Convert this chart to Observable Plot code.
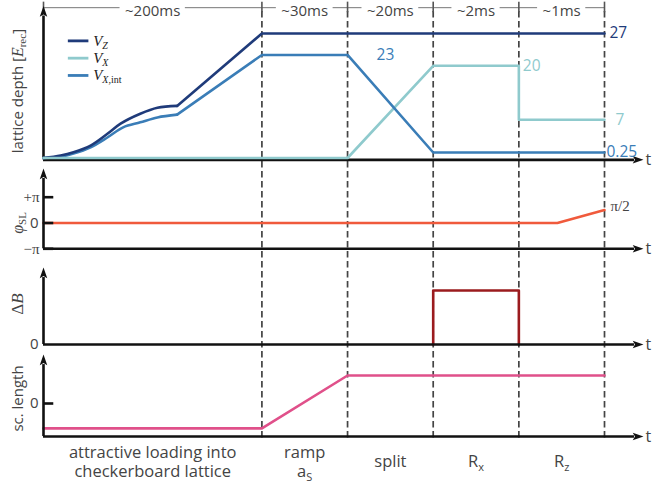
<!DOCTYPE html>
<html><head><meta charset="utf-8">
<script src="https://cdn.jsdelivr.net/npm/d3@7"></script>
<script src="https://cdn.jsdelivr.net/npm/@observablehq/plot@0.6"></script>
<style>
body{margin:0;background:#fff;}
#chart{position:relative;width:652px;height:484px;}
#chart svg{position:absolute;left:0;}
</style></head><body><div id="chart"></div>
<script>
// ---- time axis (schematic, not to scale) ----
const boundaries = [0, 2.55, 3.55, 4.55, 5.55, 6.55];
const durations = ["~200ms", "~30ms", "~20ms", "~2ms", "~1ms"];
const phaseLabels = ["attractive loading into\ncheckerboard lattice", "ramp\na_S", "split", "R_x", "R_z"];

// ---- lattice depths ----
const seriesNames = ["V_Z", "V_X", "V_X,int"];
const seriesColors = ["#1f3b7a", "#8fcacd", "#3a7db7"];
const vzT = [0, 0.20, 0.35, 0.55, 0.75, 0.90, 1.13, 1.33, 1.56, 2.55, 6.55];
const vzV = [0, 0.54, 1.25, 2.7, 5.3, 7.45, 9.6, 10.9, 11.3, 27, 27];
const vxT = [0, 3.55, 4.55, 5.55, 5.55, 6.55];
const vxV = [0, 0, 20, 20, 8.3, 8.3];
const vxiT = [0, 0.20, 0.35, 0.55, 0.75, 0.93, 1.13, 1.33, 1.56, 2.55, 3.55, 4.55, 6.55];
const vxiV = [0, 0.3, 0.97, 2.33, 4.5, 6.65, 7.73, 8.8, 9.4, 22.35, 22.35, 1.19, 1.19];
const rampStart = 1.56;
const depthLabels = ["27", "23", "20", "7", "0.25"];
const depthLabelSeries = ["V_Z", "V_X,int", "V_X", "V_X", "V_X,int"];
const depthLabelT = [6.55, 3.55, 5.55, 6.55, 6.55];
const depthLabelV = [27, 22.35, 20, 8.3, 1.19];

// ---- superlattice phase ----
const phiT = [0, 6.0, 6.55];
const phiV = [0, 0, Math.PI / 2];
const phiTicks = [-Math.PI, 0, Math.PI];
const phiTickLabels = ["−π", "0", "+π"];

// ---- magnetic field gradient ----
const dbT = [4.55, 4.55, 5.55, 5.55];
const dbV = [0, 1, 1, 0];

// ---- scattering length ----
const scT = [0, 2.55, 3.55, 6.55];
const scV = [-0.89, -0.89, 1, 1];

// ================= build ==================
const SERIF = "Liberation Serif";
const SANS = "'Open Sans', Lato, sans-serif";
const TXT = "#444";
const AX = "#111";
const colorOf = Object.fromEntries(seriesNames.map((s, i) => [s, seriesColors[i]]));
const rows = (name, T, V) => T.map((t, i) => ({series: name, t, v: V[i]}));
const depthRows = [...rows("V_X", vxT, vxV), ...rows("V_X,int", vxiT, vxiV), ...rows("V_Z", vzT, vzV)];
const mids = durations.map((d, i) => (boundaries[i] + boundaries[i + 1]) / 2);
const X = {domain: [0, 6.55], range: [43, 604], axis: null};
const pxPerUnit = (X.range[1] - X.range[0]) / (X.domain[1] - X.domain[0]);

// gaps in the top duration bar around each label (measured text width)
const TOPFONT = 15;
const mctx = document.createElement("canvas").getContext("2d");
mctx.font = `${TOPFONT}px 'Open Sans'`;
const barSegs = [];
durations.forEach((d, i) => {
  const g = (mctx.measureText(d).width / 2 + 5) / pxPerUnit;
  barSegs.push({a: boundaries[i], b: mids[i] - g}, {a: mids[i] + g, b: boundaries[i + 1]});
});

// filled arrowhead symbol (points up)
const arrowHead = {
  draw(ctx, size) {
    const r = Math.sqrt(size / Math.PI);
    ctx.moveTo(0, -1.4 * r);
    ctx.lineTo(0.75 * r, 0.75 * r);
    ctx.lineTo(0, 0.3 * r);
    ctx.lineTo(-0.75 * r, 0.75 * r);
    ctx.closePath();
  }
};

const common = {width: 652, x: X, marginLeft: 0, marginRight: 0, marginTop: 0, marginBottom: 0,
  style: `background:none;overflow:visible;font-family:${SANS};`};

function axes(base, tip) {
  return [
    Plot.ruleY([base], {x1: 0, x2: 6.9, stroke: AX, strokeWidth: 2.6}),
    Plot.ruleX([0], {y1: base, y2: tip, stroke: AX, strokeWidth: 2.6}),
    Plot.dot([0], {x: 6.9, y: base, symbol: arrowHead, r: 5, rotate: 90, fill: AX, stroke: "none", dx: 2}),
    Plot.dot([0], {x: 0, y: tip, symbol: arrowHead, r: 5, fill: AX, stroke: "none", dy: -3}),
    Plot.text(["t"], {x: 7.03, y: base, text: d => d, textAnchor: "start", fontSize: 16, fill: TXT})
  ];
}

const tops = [0, 168, 260, 352];
const plots = [];

// dashed phase boundaries spanning all panels
plots.push([0, Plot.plot({...common, height: 484, marginTop: 11, marginBottom: 44,
  marks: [Plot.ruleX(boundaries.slice(1), {stroke: "#444", strokeWidth: 1.7, strokeDasharray: "6.5,3.5"})]})]);

// panel 1: lattice depth
plots.push([tops[0], Plot.plot({...common, height: 168,
  y: {domain: [0, 27], range: [157.5, 33], axis: null},
  marks: [
    Plot.ruleY(barSegs, {x1: "a", x2: "b", y: 32.6, stroke: "#777", strokeWidth: 1}),
    Plot.ruleX(boundaries, {y1: 31.5, y2: 33.8, stroke: "#555", strokeWidth: 1.6}),
    Plot.text(durations, {x: (d, i) => mids[i], y: 32.6, text: d => d, fontSize: TOPFONT, fill: TXT, dy: 3.5}),
    ...axes(-0.4, 30.8),
    Plot.line(depthRows.filter(d => d.t <= rampStart), {x: "t", y: "v", z: "series",
      stroke: d => colorOf[d.series], strokeWidth: 2.6, curve: "catmull-rom"}),
    Plot.line(depthRows.filter(d => d.t >= rampStart || d.series === "V_X"), {x: "t", y: "v", z: "series",
      stroke: d => colorOf[d.series], strokeWidth: 2.6}),
    Plot.ruleY(seriesNames, {x1: 0.29, x2: 0.53, y: (d, i) => 25.4 - i * 3.75, stroke: (d, i) => seriesColors[i], strokeWidth: 2.8}),
    Plot.text(seriesNames, {x: 0.58, y: (d, i) => 25.4 - i * 3.75, text: d => d, textAnchor: "start",
      fontFamily: SERIF, fontStyle: "italic", fontSize: 15, fill: "#222"}),
    ...depthLabels.map((s, i) => Plot.text([s], {x: depthLabelT[i], y: depthLabelV[i], text: d => d,
      textAnchor: "start", dx: [5, 29, 4, 11, 2][i], fontSize: 15.5,
      fill: colorOf[depthLabelSeries[i]]})),
    Plot.text(["lattice depth [E_rec]"], {x: -0.3, y: 14.5, text: d => d, rotate: -90, fontSize: 15, fill: TXT})
  ]})]);

// panel 2: phase
plots.push([tops[1], Plot.plot({...common, height: 92,
  y: {domain: [-Math.PI, Math.PI], range: [80.3, 28.7], axis: null},
  marks: [
    Plot.line(phiT.map((t, i) => ({t, v: phiV[i]})), {x: "t", y: "v", stroke: "#f05a3c", strokeWidth: 2.6}),
    ...axes(-Math.PI, 5.42),
    Plot.ruleY(phiTicks, {x1: 0, x2: 0.12, stroke: AX, strokeWidth: 2.6}),
    Plot.text(phiTicks.filter((d, i) => phiTickLabels[i] !== "0"), {x: 0, y: d => d,
      text: d => phiTickLabels[phiTicks.indexOf(d)], textAnchor: "end", dx: -4, fontFamily: SERIF, fontSize: 15, fill: TXT}),
    Plot.text(phiTicks.filter((d, i) => phiTickLabels[i] === "0"), {x: 0, y: d => d,
      text: d => phiTickLabels[phiTicks.indexOf(d)], textAnchor: "end", dx: -5, fontSize: 15, fill: TXT}),
    Plot.text(["π/2"], {x: phiT[phiT.length - 1], y: phiV[phiV.length - 1], text: d => d, textAnchor: "start",
      dx: 6, dy: -4, fontFamily: SERIF, fontSize: 15, fill: TXT}),
    Plot.text(["φ_SL"], {x: -0.3, y: 0, text: d => d, rotate: -90, fontFamily: SERIF, fontSize: 16, fill: TXT})
  ]})]);

// panel 3: delta B
plots.push([tops[2], Plot.plot({...common, height: 92,
  y: {domain: [0, 1], range: [84, 30], axis: null},
  marks: [
    Plot.line(dbT.map((t, i) => ({t, v: dbV[i]})), {x: "t", y: "v", stroke: "#9b1b1e", strokeWidth: 2.6}),
    ...axes(0, 1.24),
    Plot.text([0], {x: 0, y: 0, text: d => String(d), textAnchor: "end", dx: -5, fontSize: 15, fill: TXT}),
    Plot.text(["ΔB"], {x: -0.3, y: 0.75, text: d => d, rotate: -90, fontFamily: SERIF, fontSize: 17, fill: TXT})
  ]})]);

// panel 4: scattering length
plots.push([tops[3], Plot.plot({...common, height: 132,
  y: {domain: [-1, 1], range: [79, 23], axis: null},
  marks: [
    Plot.line(scT.map((t, i) => ({t, v: scV[i]})), {x: "t", y: "v", stroke: "#e0508a", strokeWidth: 2.6}),
    ...axes(-1.18, 1.39),
    Plot.ruleY([0], {x1: 0, x2: 0.12, stroke: AX, strokeWidth: 2.6}),
    Plot.text([0], {x: 0, y: 0, text: d => String(d), textAnchor: "end", dx: -5, fontSize: 15, fill: TXT}),
    Plot.text(["sc. length"], {x: -0.3, y: 0.18, text: d => d, rotate: -90, fontSize: 15, fill: TXT}),
    Plot.text(phaseLabels, {x: (d, i) => mids[i], y: -2.07, text: d => d, fontSize: 16.5, lineHeight: 1.12, fill: TXT})
  ]})]);

const root = document.getElementById("chart");
for (const [top, svg] of plots) { svg.style.top = top + "px"; root.appendChild(svg); }

// rich text: subscripts & math italics
const sub = (s, size = 10, shift = -3) => `<tspan font-size="${size}" baseline-shift="${shift}">${s}</tspan>`;
const rich = {
  "lattice depth [E_rec]": `lattice depth [<tspan font-family="${SERIF}" font-style="italic" font-size="16">E</tspan><tspan font-family="${SERIF}" font-size="11" baseline-shift="-3">rec</tspan>]`,
  "V_Z": `V${sub("Z")}`,
  "V_X": `V${sub("X")}`,
  "V_X,int": `V<tspan font-size="10" baseline-shift="-3">X<tspan font-style="normal">,int</tspan></tspan>`,
  "φ_SL": `<tspan font-style="italic">φ</tspan>${sub("SL", 11)}`,
  "ΔB": `Δ<tspan font-style="italic">B</tspan>`,
  "a_S": `a${sub("S", 11, -4)}`,
  "R_x": `R${sub("x", 11, -4)}`,
  "R_z": `R${sub("z", 11, -4)}`
};
for (const el of root.querySelectorAll("text, tspan")) {
  if (el.children.length === 0 && rich[el.textContent]) el.innerHTML = rich[el.textContent];
}
</script></body></html>
